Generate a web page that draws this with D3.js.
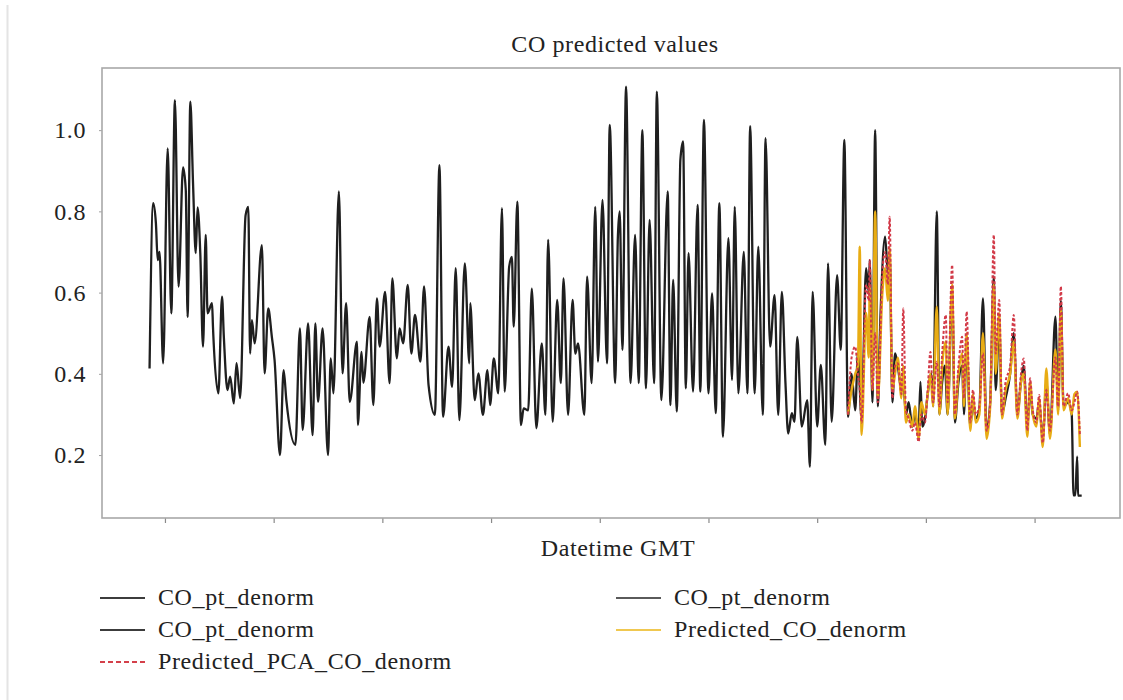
<!DOCTYPE html>
<html>
<head>
<meta charset="utf-8">
<script src="https://cdn.jsdelivr.net/npm/d3@7"></script>
<style>
  html, body { margin: 0; padding: 0; background: #ffffff; }
  svg { display: block; }
  text { font-family: "Liberation Serif", "Times New Roman", serif; fill: #222; }
</style>
</head>
<body>
<svg id="chart" width="1123" height="700"></svg>
<script>
// Measured CO (hours since series start, denormalised value)
const observedHours = [
  103,107,110,112,114,118,123,127,131,135,140,143,145,148,151,154,156,159,162,165,
  167,172,173,179,183,185,189,192,196,199,203,209,212,214,216,219,227,230,234,238,
  241,247,251,254,264,269,272,278,283,286,289,294,300,303,306,312,316,320,324,332,
  333,337,339,346,350,354,357,363,368,371,376,379,383,388,392,396,402,406,411,418,
  423,427,433,437,441,445,451,456,457,462,466,471,476,479,483,488,492,495,500,503,
  505,509,513,516,521,525,530,536,540,543,548,553,557,560,565,570,573,576,583,586,
  591,595,598,603,608,611,617,620,622,625,629,634,639,643,647,651,655,660,663,668,
  675,678,681,685,689,692,695,698,703,708,711,715,720,724,728,732,736,742,746,749,
  753,759,763,766,771,775,780,783,788,793,797,801,805,808,812,815,818,823,829,832,
  835,840,844,849,852,856,862,866,870,874,
  878,882,885,889,894,897,898,901,904,907,910,915,918,920,923,926,929,933,935,938,
  941,945,948,952,954,956,959,962,966,968,972,975,978,981,984,989,992,996,1000,1002,
  1005,1009,1012,1015,1019,1023,1027,1031,1035,1037,1041,1044,1048,1053,1057,1061,1065,1068,1072,1075,
  1078,1082,1085,1089,1093,1097,1103,1106,1109,1112,1117,1121,1123,1125,1127,1128,1132
];
const observedCO = [
  0.413,0.82,0.771,0.68,0.70,0.426,0.955,0.549,1.074,0.615,0.908,0.852,0.54,1.07,0.869,0.697,0.81,0.697,0.467,0.742,
  0.549,0.574,0.516,0.352,0.59,0.491,0.36,0.393,0.327,0.426,0.34,0.79,0.811,0.45,0.532,0.475,0.717,0.401,0.561,0.491,
  0.434,0.2,0.409,0.335,0.225,0.512,0.262,0.524,0.249,0.524,0.331,0.512,0.2,0.438,0.352,0.849,0.401,0.574,0.331,0.479,
  0.274,0.454,0.378,0.54,0.323,0.586,0.467,0.602,0.377,0.635,0.438,0.512,0.475,0.619,0.45,0.545,0.43,0.615,0.372,0.299,
  0.914,0.294,0.467,0.368,0.66,0.286,0.672,0.426,0.574,0.335,0.401,0.299,0.409,0.323,0.438,0.352,0.808,0.356,0.664,0.688,
  0.516,0.824,0.274,0.315,0.31,0.61,0.266,0.475,0.299,0.73,0.282,0.582,0.377,0.635,0.299,0.582,0.45,0.475,0.299,0.639,
  0.377,0.811,0.43,0.828,0.426,1.013,0.377,0.738,0.8,0.459,1.107,0.377,0.742,0.377,1.0,0.364,0.779,0.377,1.095,0.335,
  0.849,0.323,0.631,0.307,0.927,0.972,0.364,0.697,0.356,0.816,0.356,1.025,0.352,0.598,0.303,0.82,0.245,0.734,0.385,0.811,
  0.352,0.70,0.352,1.01,0.352,0.713,0.299,0.98,0.467,0.594,0.299,0.602,0.377,0.253,0.303,0.282,0.491,0.27,0.335,0.171,
  0.602,0.27,0.422,0.225,0.672,0.282,0.643,0.459,0.976,0.294,
  0.40,0.31,0.45,0.29,0.66,0.60,0.68,0.33,1.0,0.32,0.55,0.738,0.65,0.70,0.33,0.45,0.42,0.36,0.38,0.30,
  0.33,0.27,0.30,0.26,0.38,0.27,0.29,0.35,0.40,0.32,0.80,0.30,0.38,0.42,0.30,0.60,0.28,0.38,0.42,0.30,
  0.47,0.27,0.33,0.29,0.31,0.586,0.26,0.33,0.64,0.36,0.52,0.30,0.34,0.40,0.50,0.30,0.38,0.42,0.27,0.36,
  0.30,0.29,0.33,0.24,0.38,0.25,0.541,0.31,0.58,0.32,0.33,0.30,0.101,0.101,0.196,0.10,0.10
];

// Forecast window: two model outputs on a shared time grid
const forecastHours = [
  874,878,882,885,887,889,894,897,898,901,904,907,912,915,918,920,923,926,929,933,
  935,938,941,945,948,952,955,959,962,965,968,972,975,978,982,984,989,992,996,1000,
  1002,1005,1009,1012,1015,1019,1023,1027,1031,1035,1037,1041,1044,1048,1053,1057,1061,1065,1068,1072,
  1075,1078,1082,1085,1089,1093,1097,1103,1106,1109,1112,1117,1121,1124,1127,1130
];
const predictedCO = [
  0.30,0.36,0.40,0.42,0.713,0.25,0.55,0.44,0.62,0.36,0.80,0.34,0.60,0.66,0.58,0.71,0.36,0.40,0.44,0.34,
  0.42,0.28,0.30,0.27,0.32,0.24,0.33,0.30,0.35,0.40,0.32,0.565,0.30,0.42,0.48,0.30,0.62,0.29,0.40,0.45,
  0.32,0.50,0.26,0.35,0.28,0.30,0.50,0.24,0.32,0.62,0.40,0.55,0.29,0.36,0.40,0.48,0.29,0.38,0.40,0.245,
  0.38,0.30,0.27,0.34,0.22,0.413,0.24,0.46,0.30,0.56,0.31,0.34,0.30,0.35,0.356,0.22
];
const predictedPCA = [
  0.30,0.44,0.467,0.40,0.36,0.28,0.62,0.58,0.68,0.36,0.50,0.33,0.65,0.70,0.62,0.787,0.34,0.42,0.426,0.35,
  0.561,0.31,0.29,0.26,0.28,0.233,0.30,0.28,0.36,0.454,0.33,0.43,0.32,0.45,0.545,0.33,0.668,0.30,0.42,0.491,
  0.34,0.553,0.28,0.36,0.30,0.32,0.45,0.26,0.33,0.742,0.45,0.582,0.30,0.38,0.42,0.545,0.30,0.40,0.438,0.26,
  0.389,0.31,0.28,0.348,0.23,0.36,0.26,0.44,0.32,0.615,0.32,0.352,0.31,0.33,0.356,0.25
];

const yTicks = [0.2, 0.4, 0.6, 0.8, 1.0];
const xTickHours = [120, 240, 360, 480, 600, 720, 840, 960, 1080];
const legendLabels = ["CO_pt_denorm", "CO_pt_denorm", "CO_pt_denorm", "Predicted_CO_denorm", "Predicted_PCA_CO_denorm"];

const seriesStart = Date.UTC(2019, 9, 1);
const toDate = h => new Date(seriesStart + h * 3600e3);

const FONT = "Liberation Serif, Times New Roman, serif";
const FONT_SIZE = 24;
const LETTER_SP = 0.6;

const svg = d3.select("#chart");
const plot = { left: 102, right: 1120, top: 68, bottom: 518 };

// faint page edge on the left
svg.append("line")
  .attr("x1", 7.5).attr("x2", 7.5).attr("y1", 5).attr("y2", 700)
  .attr("stroke", "#e4e4e4").attr("stroke-width", 2);

const x = d3.scaleUtc()
  .domain([toDate(50.5), toDate(1174.3)])
  .range([plot.left, plot.right]);
const y = d3.scaleLinear()
  .domain([0.045, 1.153])
  .range([plot.bottom, plot.top]);

// axes
const xAxis = svg.append("g")
  .attr("transform", `translate(0,${plot.bottom})`)
  .call(d3.axisBottom(x).tickValues(xTickHours.map(toDate)).tickSize(5).tickFormat(""));
xAxis.select(".domain").remove();
xAxis.selectAll(".tick line").attr("stroke", "#8a8a8a").attr("stroke-width", 1.2);

const yAxis = svg.append("g")
  .attr("transform", `translate(${plot.left},0)`)
  .call(d3.axisLeft(y).tickValues(yTicks).tickSize(3).tickPadding(13).tickFormat(d3.format(".1f")));
yAxis.select(".domain").remove();
yAxis.selectAll(".tick line").attr("stroke", "#a0a0a0");
yAxis.selectAll(".tick text")
  .attr("font-family", FONT)
  .attr("font-size", FONT_SIZE)
  .attr("letter-spacing", LETTER_SP)
  .attr("fill", "#222");

// frame
svg.append("rect")
  .attr("x", plot.left).attr("y", plot.top)
  .attr("width", plot.right - plot.left).attr("height", plot.bottom - plot.top)
  .attr("fill", "none").attr("stroke", "#a8a8a8").attr("stroke-width", 1.6);

svg.append("clipPath").attr("id", "plotClip")
  .append("rect")
  .attr("x", plot.left).attr("y", plot.top)
  .attr("width", plot.right - plot.left).attr("height", plot.bottom - plot.top);

const g = svg.append("g").attr("clip-path", "url(#plotClip)");

const line = d3.line()
  .curve(d3.curveMonotoneX)
  .x(d => x(toDate(d[0])))
  .y(d => y(d[1]));

const observed = observedHours.map((h, i) => [h, observedCO[i]]);
const pred = forecastHours.map((h, i) => [h, predictedCO[i]]);
const pca = forecastHours.map((h, i) => [h, predictedPCA[i]]);

g.append("path").datum(observed)
  .attr("d", line).attr("fill", "none")
  .attr("stroke", "#1f1f1f").attr("stroke-width", 2.3)
  .attr("stroke-linejoin", "round");

g.append("path").datum(pred)
  .attr("d", line).attr("fill", "none")
  .attr("stroke", "#e8ac14").attr("stroke-width", 2.4)
  .attr("stroke-linejoin", "round");

g.append("path").datum(pca)
  .attr("d", line).attr("fill", "none")
  .attr("stroke", "#d23a48").attr("stroke-width", 2)
  .attr("stroke-dasharray", "3,2")
  .attr("stroke-linejoin", "round");

// titles
svg.append("text")
  .attr("x", 615).attr("y", 52)
  .attr("text-anchor", "middle")
  .attr("font-size", FONT_SIZE)
  .attr("letter-spacing", LETTER_SP)
  .text("CO predicted values");

svg.append("text")
  .attr("x", 618).attr("y", 556)
  .attr("text-anchor", "middle")
  .attr("font-size", FONT_SIZE)
  .attr("letter-spacing", LETTER_SP)
  .text("Datetime GMT");

// legend
const legendItems = [
  { label: legendLabels[0], col: 0, row: 0, color: "#3c3c3c", dash: null },
  { label: legendLabels[1], col: 1, row: 0, color: "#5a5a5a", dash: null },
  { label: legendLabels[2], col: 0, row: 1, color: "#3c3c3c", dash: null },
  { label: legendLabels[3], col: 1, row: 1, color: "#f0c850", dash: null },
  { label: legendLabels[4], col: 0, row: 2, color: "#d4404a", dash: "5,3" }
];
const colX = [100, 616];
const rowY = [598, 630, 662];

const leg = svg.append("g").selectAll("g").data(legendItems).join("g")
  .attr("transform", d => `translate(${colX[d.col]},${rowY[d.row]})`);
leg.append("line")
  .attr("x1", 0).attr("x2", 45).attr("y1", 0).attr("y2", 0)
  .attr("stroke", d => d.color).attr("stroke-width", 1.8)
  .attr("stroke-dasharray", d => d.dash);
leg.append("text")
  .attr("x", 58).attr("y", 0).attr("dy", "0.3em")
  .attr("font-size", FONT_SIZE)
  .attr("letter-spacing", LETTER_SP)
  .text(d => d.label);
</script>
</body>
</html>
